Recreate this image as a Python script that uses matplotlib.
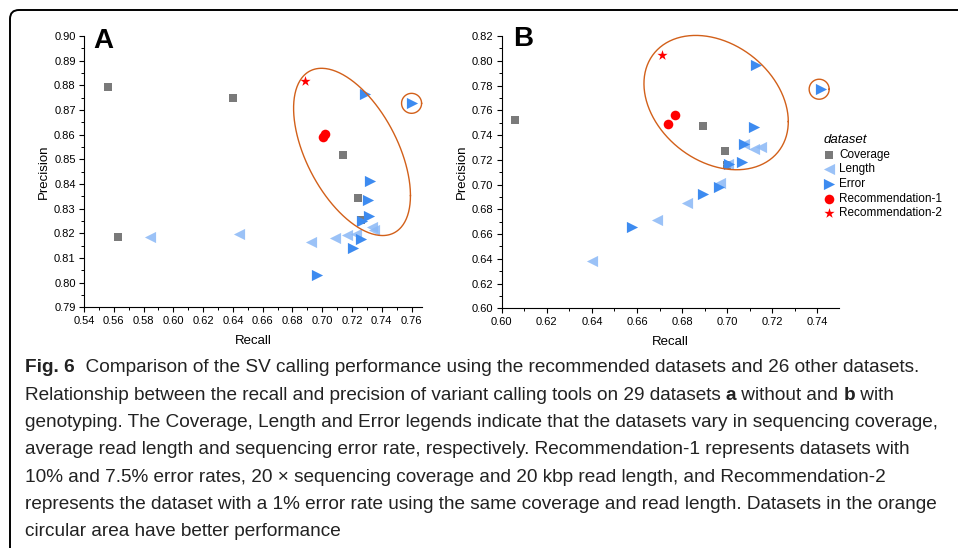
"""plot.py: recall vs precision of SV callers on 29 datasets (two panels + caption)"""
import numpy as np
import matplotlib
matplotlib.use("Agg")
import matplotlib.pyplot as plt
from matplotlib.patches import FancyBboxPatch
from matplotlib.transforms import IdentityTransform

W, H = 958, 548
FONT = "Liberation Sans"
TICK_SIZE = 8
LABEL_SIZE = 9.5

C_COV = "#7a7a7a"
C_LEN = "#8ab8f6"
C_ERR = "#3d8bf0"
C_REC = "#ff0000"
C_RING = "#d2601a"

# ---- panel A: without genotyping ----
a_cov_recall = [0.556, 0.640, 0.563, 0.714, 0.7243, 0.7257]
a_cov_prec = [0.8792, 0.8747, 0.8184, 0.8518, 0.8345, 0.8254]
a_len_recall = [0.5842, 0.6443, 0.6922, 0.7084, 0.7169, 0.7226, 0.7335, 0.7346]
a_len_prec = [0.8184, 0.8197, 0.8165, 0.8180, 0.8193, 0.8197, 0.8224, 0.8215]
a_err_recall = [0.7288, 0.7600, 0.7319, 0.7310, 0.7315, 0.7268, 0.7257, 0.7207, 0.6967]
a_err_prec = [0.8765, 0.8728, 0.8414, 0.8336, 0.8270, 0.8250, 0.8177, 0.8142, 0.8032]
a_rec1_recall = [0.7005, 0.7019]
a_rec1_prec = [0.8592, 0.8603]
a_rec2_recall = [0.6882]
a_rec2_prec = [0.8818]

# ---- panel B: with genotyping ----
b_cov_recall = [0.6061, 0.6894, 0.6992, 0.6998]
b_cov_prec = [0.7521, 0.7473, 0.7274, 0.7158]
b_len_recall = [0.6402, 0.6687, 0.6824, 0.6969, 0.7117, 0.7151, 0.7002, 0.7075]
b_len_prec = [0.6385, 0.6711, 0.6848, 0.7010, 0.7285, 0.7306, 0.7163, 0.7330]
b_err_recall = [0.6577, 0.6895, 0.6963, 0.7008, 0.7067, 0.7075, 0.7117, 0.7128, 0.7416]
b_err_prec = [0.6657, 0.6924, 0.6980, 0.7163, 0.7182, 0.7328, 0.7468, 0.7966, 0.7775]
b_rec1_recall = [0.6738, 0.6769]
b_rec1_prec = [0.7487, 0.7559]
b_rec2_recall = [0.6710]
b_rec2_prec = [0.8044]

LEGEND_LABELS = ["Coverage", "Length", "Error", "Recommendation-1", "Recommendation-2"]

CAPTION = [
    [("Fig. 6", "bold"), ("  Comparison of the SV calling performance using the recommended datasets and 26 other datasets.", "normal")],
    [("Relationship between the recall and precision of variant calling tools on 29 datasets ", "normal"),
     ("a", "bold"), (" without and ", "normal"), ("b", "bold"), (" with", "normal")],
    [("genotyping. The Coverage, Length and Error legends indicate that the datasets vary in sequencing coverage,", "normal")],
    [("average read length and sequencing error rate, respectively. Recommendation-1 represents datasets with", "normal")],
    [("10% and 7.5% error rates, 20 \u00d7 sequencing coverage and 20 kbp read length, and Recommendation-2", "normal")],
    [("represents the dataset with a 1% error rate using the same coverage and read length. Datasets in the orange", "normal")],
    [("circular area have better performance", "normal")],
]

plt.rcParams["font.family"] = [FONT, "DejaVu Sans"]

fig = plt.figure(figsize=(W / 100, H / 100), dpi=100)
axA = fig.add_axes([84 / W, 1 - 307.3 / H, (422 - 84) / W, 271.3 / H])
axB = fig.add_axes([501.7 / W, 1 - 308.3 / H, (839 - 501.7) / W, 272.3 / H])


def scatter_panel(ax, cov, ln, err, r1, r2):
    h = []
    h.append(ax.scatter(*cov, marker="s", s=32, color=C_COV, linewidths=0, zorder=3))
    h.append(ax.scatter(*ln, marker="<", s=65, color=C_LEN, alpha=0.85, linewidths=0, zorder=4))
    h.append(ax.scatter(*err, marker=">", s=65, color=C_ERR, linewidths=0, zorder=5))
    h.append(ax.scatter(*r1, marker="o", s=48, color=C_REC, linewidths=0, zorder=6))
    h.append(ax.scatter(*r2, marker="*", s=60, color=C_REC, linewidths=0, zorder=6))
    return h


def ring(ax, centre, u, v):
    t = np.linspace(0, 2 * np.pi, 300)
    x = centre[0] + u[0] * np.cos(t) + v[0] * np.sin(t)
    y = centre[1] + u[1] * np.cos(t) + v[1] * np.sin(t)
    ax.plot(x, y, color=C_RING, lw=1.0, zorder=7, clip_on=False)


def style_axes(ax, xlim, ylim, xmaj, ymaj):
    ax.set_xlim(*xlim)
    ax.set_ylim(*ylim)
    ax.set_xticks(np.round(np.arange(xlim[0], xlim[1] + 1e-9, xmaj), 3))
    ax.set_xticks(np.round(np.arange(xlim[0], xlim[1] + 1e-9, xmaj / 2), 4), minor=True)
    ax.set_yticks(np.round(np.arange(ylim[0], ylim[1] + 1e-9, ymaj), 3))
    ax.set_yticks(np.round(np.arange(ylim[0], ylim[1] + 1e-9, ymaj / 2), 4), minor=True)
    ax.xaxis.set_major_formatter(plt.FormatStrFormatter("%.2f"))
    ax.yaxis.set_major_formatter(plt.FormatStrFormatter("%.2f"))
    for s in ["top", "right"]:
        ax.spines[s].set_visible(False)
    for s in ["left", "bottom"]:
        ax.spines[s].set_linewidth(0.8)
    ax.tick_params(which="major", direction="out", length=3.5, width=0.8, labelsize=TICK_SIZE, pad=2.5)
    ax.tick_params(which="minor", direction="out", length=2, width=0.7)
    ax.set_xlabel("Recall", fontsize=LABEL_SIZE, labelpad=7)
    ax.set_ylabel("Precision", fontsize=LABEL_SIZE, labelpad=3)


scatter_panel(axA, (a_cov_recall, a_cov_prec), (a_len_recall, a_len_prec),
              (a_err_recall, a_err_prec), (a_rec1_recall, a_rec1_prec), (a_rec2_recall, a_rec2_prec))
handles = scatter_panel(axB, (b_cov_recall, b_cov_prec), (b_len_recall, b_len_prec),
                        (b_err_recall, b_err_prec), (b_rec1_recall, b_rec1_prec), (b_rec2_recall, b_rec2_prec))

style_axes(axA, (0.54, 0.767), (0.79, 0.90), 0.02, 0.01)
style_axes(axB, (0.60, 0.7496), (0.60, 0.82), 0.02, 0.02)

# orange "better performance" areas
ring(axA, (0.7200, 0.8530), (0.03924, -0.01770), (0.0, -0.02892))
ring(axA, (0.7600, 0.8727), (0.00673, 0.0), (0.0, 0.00405))
ring(axB, (0.6951, 0.7662), (0.03201, -0.01535), (0.0, 0.05205))
ring(axB, (0.7408, 0.7770), (0.00444, 0.0), (0.0, 0.00808))

axA.text(0.027, 1.03, "A", transform=axA.transAxes, fontsize=20, fontweight="bold",
         va="top", ha="left")
axB.text(0.033, 1.035, "B", transform=axB.transAxes, fontsize=20, fontweight="bold",
         va="top", ha="left")

leg = fig.legend(handles, LEGEND_LABELS, title="dataset", loc="upper left",
                 bbox_to_anchor=(815 / W, 1 - 126 / H), frameon=False, fontsize=8.5,
                 title_fontsize=9.5, labelspacing=0.22, handletextpad=0.35,
                 handlelength=1.0, borderpad=0.2, alignment="left")
leg.get_title().set_fontstyle("italic")

# caption, line by line with bold fragments; size fitted so the widest line spans the box
renderer = fig.canvas.get_renderer()
probe = fig.text(0, 0, CAPTION[2][0][0], fontsize=10)
CAP_SIZE = 10 * 922 / probe.get_window_extent(renderer).width
probe.remove()
for i, pieces in enumerate(CAPTION):
    y = 368 + 27.3 * i
    x = 25
    for txt, weight in pieces:
        t = fig.text(x / W, 1 - y / H, txt, fontsize=CAP_SIZE, fontweight=weight,
                     va="center", ha="left", color="#222222")
        x += t.get_window_extent(renderer).width

# outer frame with rounded top-left corner
frame = FancyBboxPatch((10, -40), 1100, 548 - 10 + 40, boxstyle="round,pad=0,rounding_size=9",
                       transform=IdentityTransform(), fill=False, edgecolor="black", lw=1.4)
fig.add_artist(frame)

fig.savefig("out.png", dpi=100)
